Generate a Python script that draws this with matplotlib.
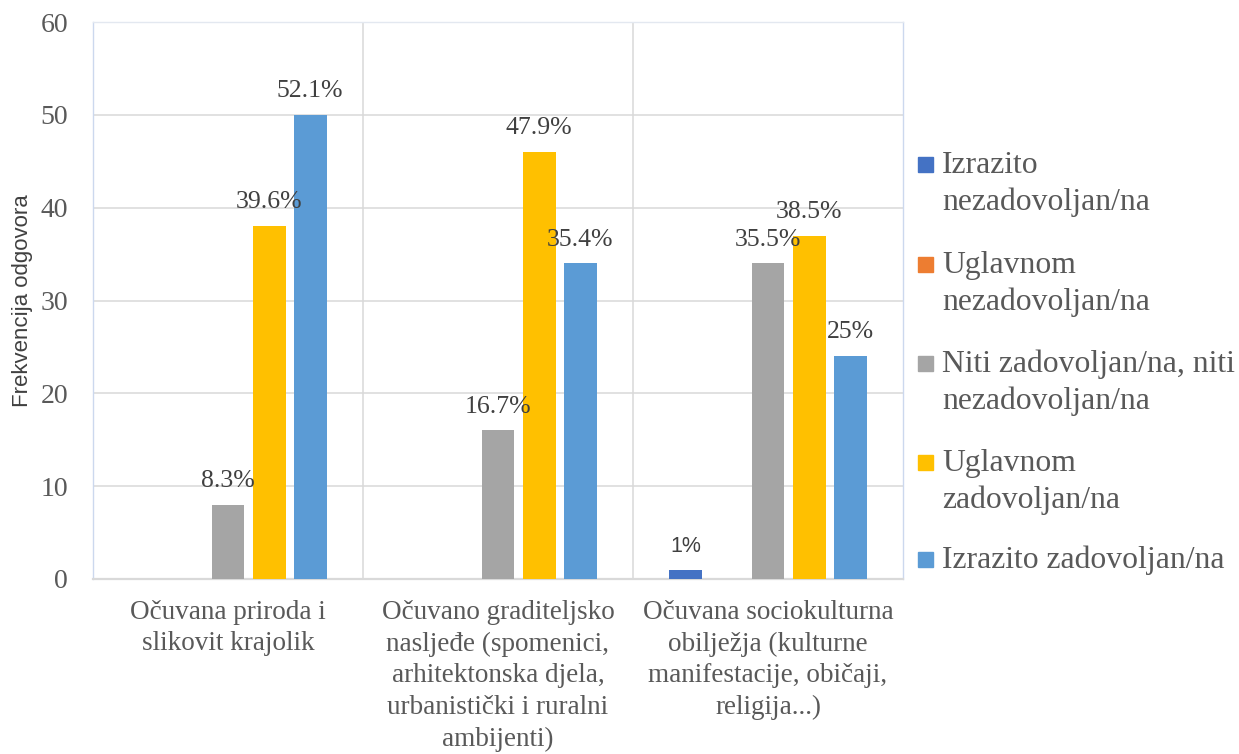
import matplotlib
matplotlib.use("Agg")
import matplotlib.pyplot as plt
from matplotlib.patches import Rectangle
import numpy as np

categories = [
    "Očuvana priroda i\nslikovit krajolik",
    "Očuvano graditeljsko\nnasljeđe (spomenici,\narhitektonska djela,\nurbanistički i ruralni\nambijenti)",
    "Očuvana sociokulturna\nobilježja (kulturne\nmanifestacije, običaji,\nreligija...)",
]
series_names = [
    "Izrazito\nnezadovoljan/na",
    "Uglavnom\nnezadovoljan/na",
    "Niti zadovoljan/na, niti\nnezadovoljan/na",
    "Uglavnom\nzadovoljan/na",
    "Izrazito zadovoljan/na",
]
izrazito_nezadovoljan = [0, 0, 1]
uglavnom_nezadovoljan = [0, 0, 0]
niti_niti = [8, 16, 34]
uglavnom_zadovoljan = [38, 46, 37]
izrazito_zadovoljan = [50, 34, 24]
labels_izrazito_nezadovoljan = ["", "", "1%"]
labels_uglavnom_nezadovoljan = ["", "", ""]
labels_niti_niti = ["8.3%", "16.7%", "35.5%"]
labels_uglavnom_zadovoljan = ["39.6%", "47.9%", "38.5%"]
labels_izrazito_zadovoljan = ["52.1%", "35.4%", "25%"]
y_ticks = [0, 10, 20, 30, 40, 50, 60]

series_values = [izrazito_nezadovoljan, uglavnom_nezadovoljan, niti_niti,
                 uglavnom_zadovoljan, izrazito_zadovoljan]
series_labels = [labels_izrazito_nezadovoljan, labels_uglavnom_nezadovoljan,
                 labels_niti_niti, labels_uglavnom_zadovoljan, labels_izrazito_zadovoljan]
colors = ["#4472C4", "#ED7D31", "#A5A5A5", "#FFC000", "#5B9BD5"]

serif = "Liberation Serif"
sans = "Liberation Sans"

W, H = 1239, 754
fig = plt.figure(figsize=(W / 100, H / 100), dpi=100)
ax = fig.add_axes([93 / W, 1 - 579 / H, (903 - 93) / W, (579 - 22) / H])

x = np.arange(len(categories))
step = 0.152
bw = 0.122
for i, (vals, labs, c) in enumerate(zip(series_values, series_labels, colors)):
    pos = x + (i - 2) * step
    ax.bar(pos, vals, width=bw, color=c, zorder=3)
    for p, v, lab in zip(pos, vals, labs):
        if lab:
            fam = sans if lab == "1%" else serif
            fs = 15.5 if lab == "1%" else 18.5
            ax.annotate(lab, (p, v), xytext=(0, 12.8), textcoords="offset points",
                        ha="center", va="baseline", fontsize=fs, family=fam,
                        color="#404040", zorder=4)

ax.set_xlim(-0.5, 2.5)
ax.set_ylim(0, 60)
ax.set_yticks(y_ticks)
ax.set_yticklabels([str(t) for t in y_ticks], family=serif, fontsize=20, color="#595959")
ax.tick_params(axis="y", length=0, pad=18)
ax.set_xticks(x)
ax.set_xticklabels(categories, family=serif, fontsize=19.5, color="#595959", va="top")
for t in ax.get_xticklabels():
    t.set_linespacing(1.35)
ax.tick_params(axis="x", length=0, pad=15)

ax.yaxis.grid(True, color="#D9D9D9", linewidth=1.1, zorder=0)
for b in [0.5, 1.5]:
    ax.axvline(b, color="#D9D9D9", linewidth=1.1, zorder=0)

for s in ["left", "right"]:
    ax.spines[s].set_color("#CCD8EE")
    ax.spines[s].set_linewidth(1.0)
ax.spines["top"].set_color("#E3E8F0")
ax.spines["top"].set_linewidth(1.0)
ax.spines["bottom"].set_color("#D9D9D9")
ax.spines["bottom"].set_linewidth(1.6)

ax.set_ylabel("Frekvencija odgovora", family=sans, fontsize=16, color="#404040",
              labelpad=5)

# Legend
base_y = [173, 273, 372, 471, 568]
for name, c, by in zip(series_names, colors, base_y):
    fig.patches.append(Rectangle((918 / W, 1 - (by - 1) / H), 15 / W, 15 / H,
                                 transform=fig.transFigure, color=c))
    for k, line in enumerate(name.split("\n")):
        fig.text(942 / W, 1 - (by + 37 * k) / H, line, family=serif, fontsize=22.8,
                 color="#595959", ha="left", va="baseline")

fig.savefig("out.png", dpi=100)
